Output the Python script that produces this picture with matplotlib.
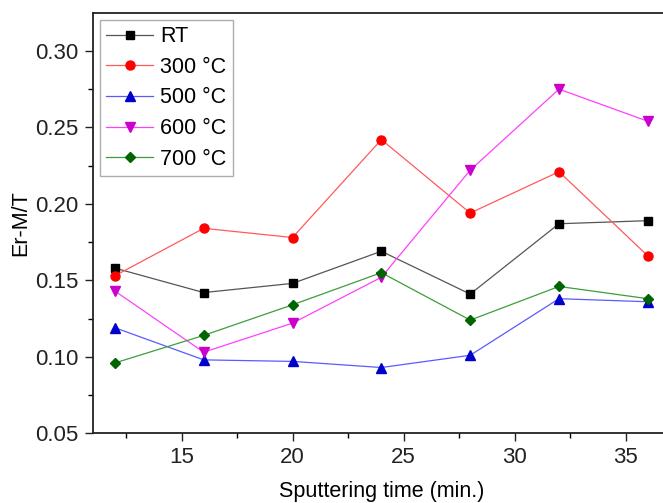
import matplotlib
matplotlib.use("Agg")
import matplotlib.pyplot as plt
from matplotlib.ticker import MultipleLocator, FormatStrFormatter

plt.rcParams['font.family'] = ['Liberation Sans', 'DejaVu Sans']

# sputtering time (min.)
times = [12, 16, 20, 24, 28, 32, 36]

# Er-M/T per annealing condition
rt = [0.158, 0.142, 0.148, 0.169, 0.141, 0.187, 0.189]
t300 = [0.153, 0.184, 0.178, 0.242, 0.194, 0.221, 0.166]
t500 = [0.119, 0.098, 0.097, 0.093, 0.101, 0.138, 0.136]
t600 = [0.143, 0.103, 0.122, 0.152, 0.222, 0.275, 0.254]
t700 = [0.096, 0.114, 0.134, 0.155, 0.124, 0.146, 0.138]

labels = ["RT", "300 °C", "500 °C", "600 °C", "700 °C"]
series = [rt, t300, t500, t600, t700]
markers = ['s', 'o', '^', 'v', 'D']
marker_colors = ['#000000', '#ff0000', '#0000cc', '#cc00cc', '#006400']
line_colors = ['#555555', '#ff5a5a', '#5a5aff', '#ff40ff', '#3c9e3c']
msizes = [5.5, 6.5, 6.5, 6.5, 5.5]

fig = plt.figure(figsize=(6.63, 5.03), dpi=100)
ax = fig.add_axes([0.1398, 0.1386, 0.8708, 0.835])

for ys, lab, m, mc, lc, ms in zip(series, labels, markers, marker_colors, line_colors, msizes):
    ax.plot(times, ys, color=lc, linewidth=0.9, marker=m, markersize=ms,
            markerfacecolor=mc, markeredgecolor=mc, label=lab)

ax.set_xlim(11, 37)
ax.set_ylim(0.05, 0.3246)
ax.xaxis.set_major_locator(MultipleLocator(5))
ax.xaxis.set_minor_locator(MultipleLocator(2.5))
ax.yaxis.set_major_locator(MultipleLocator(0.05))
ax.yaxis.set_minor_locator(MultipleLocator(0.025))
ax.yaxis.set_major_formatter(FormatStrFormatter('%.2f'))

ax.tick_params(which='major', direction='out', length=6, width=1.0, labelsize=16,
               colors='#222222', pad=4)
ax.tick_params(which='minor', direction='out', length=3.5, width=1.0)
for sp in ax.spines.values():
    sp.set_linewidth(1.3)
    sp.set_color('#222222')

ax.set_xlabel("Sputtering time (min.)", fontsize=15.5, labelpad=9)
ax.set_ylabel("Er-M/T", fontsize=15.5, labelpad=3)

leg = ax.legend(loc='upper left', bbox_to_anchor=(0.012, 0.985), fontsize=15.5,
                frameon=True, fancybox=False, edgecolor='#999999',
                handlelength=2.2, handletextpad=0.3, labelspacing=0.45,
                borderpad=0.3, borderaxespad=0)
leg.get_frame().set_linewidth(1.0)

fig.savefig("out.png", dpi=100)
